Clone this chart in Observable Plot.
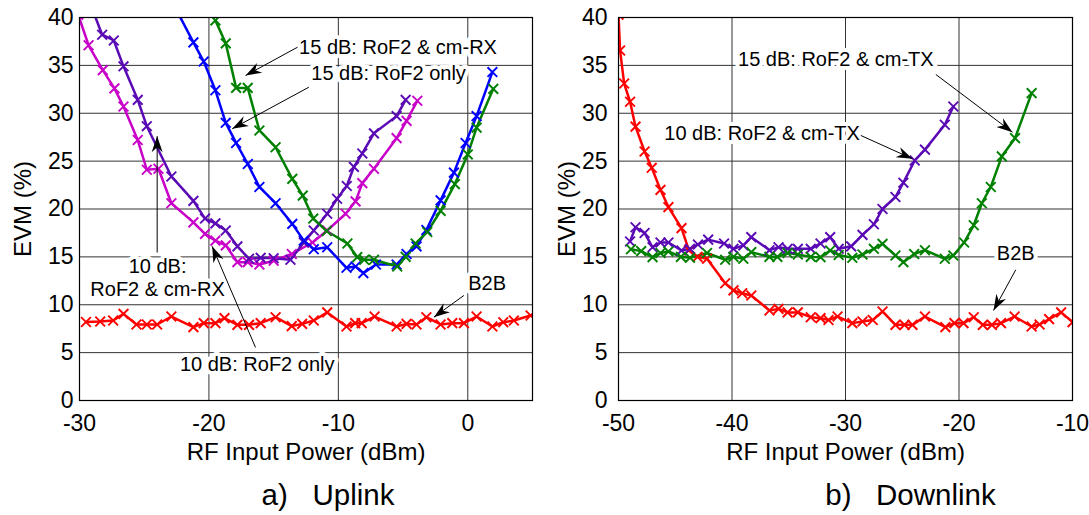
<!DOCTYPE html>
<html><head><meta charset="utf-8">
<script src="https://cdn.jsdelivr.net/npm/d3@7"></script>
<script src="https://cdn.jsdelivr.net/npm/@observablehq/plot@0.6"></script>
<style>
body{margin:0;background:#fff;}
#wrap{display:flex;width:1089px;height:515px;overflow:hidden;}
</style></head><body><div id="wrap"></div>
<script>
// ---------- DATA ----------
const seriesNames = ["B2B", "10 dB only", "10 dB cm", "15 dB only", "15 dB cm"];
const seriesColors = ["#ff0000", "#c800c8", "#5a0ab4", "#0000ff", "#008000"];
const yTicks = [0, 5, 10, 15, 20, 25, 30, 35, 40];
const upTicks = [-30, -20, -10, 0];
const downTicks = [-50, -40, -30, -20, -10];
const xLabel = "RF Input Power (dBm)";
const yLabel = "EVM (%)";

// Uplink [RF input power dBm, EVM %]
const upB2B = [[-29.5,8.2],[-28.4,8.25],[-27.4,8.35],[-26.6,9.05],[-25.6,7.94],[-24.8,7.94],[-24.0,7.94],[-22.9,8.77],[-21.2,7.66],[-20.4,8.08],[-19.5,8.08],[-18.8,8.6],[-17.8,7.9],[-16.9,7.9],[-16.0,8.08],[-14.85,8.7],[-13.6,7.77],[-12.8,8.0],[-11.9,8.35],[-10.86,9.2],[-9.37,7.73],[-8.7,8.08],[-8.2,8.08],[-7.2,8.77],[-5.5,7.73],[-4.73,8.0],[-3.96,7.94],[-3.2,8.7],[-2.1,7.94],[-1.2,8.08],[-0.3,8.08],[0.68,8.77],[1.9,7.73],[2.74,8.18],[3.56,8.35],[4.85,8.88]];
const up10Only = [[-30.1,40.3],[-29.3,37.1],[-28.2,34.5],[-27.3,32.6],[-26.6,30.7],[-25.5,27.2],[-24.8,24.1],[-23.9,24.2],[-22.9,20.6],[-21.2,18.6],[-20.3,17.4],[-19.5,16.7],[-18.7,16.2],[-17.8,14.45],[-17.0,14.45],[-16.1,14.2],[-15.0,14.6],[-13.6,15.3],[-12.0,16.5],[-10.86,17.75],[-9.44,19.5],[-8.67,20.8],[-8.15,22.7],[-7.25,24.2],[-5.5,27.4],[-4.73,29.2],[-3.9,31.3]];
const up10Cm = [[-29.1,41.2],[-28.25,38.2],[-27.35,37.6],[-26.6,34.9],[-25.5,31.4],[-24.8,28.65],[-22.9,23.4],[-21.2,20.85],[-20.3,19.0],[-19.5,18.5],[-18.7,17.75],[-17.8,16.1],[-16.9,14.8],[-16.0,14.9],[-15.0,14.86],[-13.7,14.7],[-12.67,16.5],[-11.9,17.75],[-10.86,19.5],[-10.1,21.07],[-9.35,22.4],[-8.8,24.4],[-8.15,25.8],[-7.25,27.9],[-5.5,29.7],[-4.8,31.4]];
const up15Only = [[-22.4,40.5],[-21.2,37.4],[-20.4,35.4],[-19.5,32.4],[-18.7,29.0],[-17.9,26.9],[-17.0,24.7],[-16.1,22.3],[-14.85,20.6],[-13.56,18.45],[-12.67,16.7],[-11.9,15.8],[-10.86,16.0],[-9.37,13.86],[-8.67,14.0],[-8.07,13.3],[-7.1,14.2],[-5.5,14.2],[-4.73,15.3],[-3.96,16.1],[-3.2,17.8],[-2.1,20.9],[-1.07,23.8],[-0.17,26.9],[0.68,29.7],[1.9,34.3]];
const up15Cm = [[-19.5,39.7],[-18.7,37.3],[-17.9,32.65],[-17.0,32.65],[-16.1,28.2],[-14.85,26.45],[-13.56,23.15],[-12.75,21.4],[-11.94,19.0],[-10.9,17.7],[-9.3,16.4],[-8.54,14.97],[-8.0,14.7],[-7.25,14.7],[-5.45,14.0],[-4.8,15.0],[-4.03,16.4],[-3.13,17.6],[-2.1,19.8],[-1.0,22.6],[0.0,25.7],[0.68,28.5],[1.97,32.55]];

// Downlink
const downB2B = [[-50,40.3],[-49.86,36.55],[-49.5,33.1],[-48.98,31.2],[-48.5,28.6],[-47.7,26.0],[-47.07,24.3],[-46.3,22.0],[-45.6,20.2],[-44.45,18.0],[-43.8,15.7],[-43.04,15.0],[-42.2,14.8],[-40.6,12.25],[-39.87,11.5],[-39.1,11.2],[-38.3,10.97],[-36.7,9.4],[-35.9,9.57],[-35.1,9.2],[-34.2,9.2],[-33.06,8.7],[-32.2,8.6],[-31.5,8.4],[-30.7,8.77],[-29.4,8.08],[-28.5,8.25],[-27.6,8.4],[-26.74,9.3],[-25.6,7.9],[-24.8,7.9],[-24.1,7.9],[-23.0,8.77],[-21.2,7.66],[-20.4,8.08],[-19.6,8.08],[-18.7,8.7],[-17.9,7.9],[-17.1,7.9],[-16.3,8.08],[-15.1,8.77],[-13.6,7.73],[-12.9,7.94],[-12.06,8.5],[-11.0,9.2],[-10.0,8.18]];
const down10Cm = [[-48.98,16.6],[-48.5,18.1],[-47.7,17.5],[-47.0,16.0],[-46.3,16.5],[-45.6,16.5],[-44.45,15.67],[-43.7,15.84],[-43.0,16.3],[-42.1,16.8],[-40.7,16.4],[-39.87,15.84],[-39.0,16.2],[-38.3,17.06],[-36.7,15.7],[-35.9,16.0],[-35.1,15.84],[-34.2,15.84],[-33.06,15.84],[-32.2,16.4],[-31.35,17.06],[-30.6,15.84],[-29.5,16.1],[-28.5,17.3],[-27.5,18.4],[-26.74,20.0],[-25.6,21.25],[-24.9,22.75],[-23.9,25.07],[-23.0,26.2],[-21.25,28.8],[-20.5,30.7]];
const down15Cm = [[-48.9,15.8],[-48.0,15.6],[-47.0,14.97],[-46.3,15.4],[-45.6,15.56],[-44.5,15.0],[-43.7,14.9],[-42.2,15.4],[-40.6,14.7],[-39.87,15.0],[-39.0,14.8],[-38.3,15.5],[-36.7,15.0],[-36.0,15.0],[-35.1,15.4],[-34.2,15.25],[-33.06,15.0],[-32.2,14.97],[-31.35,15.67],[-30.6,15.2],[-29.4,14.9],[-28.5,15.25],[-27.5,15.84],[-26.74,16.36],[-25.6,15.14],[-24.9,14.45],[-23.95,15.3],[-23.0,15.7],[-21.25,14.8],[-20.5,15.14],[-19.55,16.5],[-18.7,18.3],[-17.99,20.6],[-17.2,22.3],[-16.23,25.5],[-15.06,27.4],[-13.6,32.1]];

// Annotations (data coordinates)
const upNotes = [
  {x: -5.39, y: 36.97, text: "15 dB: RoF2 & cm-RX"},
  {x: -6.12, y: 34.26, text: "15 dB: RoF2 only"},
  {x: -23.97, y: 12.88, text: "10 dB:\nRoF2 & cm-RX"},
  {x: -16.27, y: 3.9, text: "10 dB: RoF2 only"},
  {x: 1.49, y: 12.36, text: "B2B"}
];
const upArrows = [
  {x1: -13.15, y1: 36.9, x2: -17.17, y2: 33.94},
  {x1: -12.28, y1: 32.72, x2: -18.2, y2: 28.38},
  {x1: -24.0, y1: 15.46, x2: -24.0, y2: 27.6},
  {x1: -16.4, y1: 5.54, x2: -19.75, y2: 16.1},
  {x1: -0.3, y1: 10.97, x2: -2.62, y2: 8.7}
];
const downNotes = [
  {x: -30.85, y: 35.69, text: "15 dB: RoF2 & cm-TX"},
  {x: -37.35, y: 28.02, text: "10 dB: RoF2 & cm-TX"},
  {x: -15.0, y: 15.49, text: "B2B"}
];
const downArrows = [
  {x1: -22.04, y1: 34.05, x2: -15.29, y2: 28.02},
  {x1: -28.65, y1: 27.68, x2: -24.1, y2: 25.24},
  {x1: -15.0, y1: 13.65, x2: -16.96, y2: 9.4}
];

// ---------- DRAW ----------
const FONT = "'Liberation Sans', Arial, Helvetica, sans-serif";
const GRID = "#333";

function stealth() {
  const m = d3.create("svg:marker")
    .attr("viewBox", "-17 -7 18 14")
    .attr("markerWidth", 18).attr("markerHeight", 14)
    .attr("markerUnits", "userSpaceOnUse")
    .attr("refX", 0).attr("refY", 0)
    .attr("orient", "auto");
  m.append("path").attr("d", "M0,0L-16,-5.5L-11,0L-16,5.5Z").attr("fill", "#000").attr("stroke", "none");
  return m.node();
}

function panel(o) {
  const data = o.series.flatMap(([name, pts]) => pts.map(([x, y]) => ({name, x, y})));
  return Plot.plot({
    width: o.width, height: 515,
    marginLeft: o.ml, marginRight: o.mr, marginTop: 17, marginBottom: 115,
    style: {fontFamily: FONT, fontSize: "20px", color: "#000", background: "#fff"},
    x: {domain: o.xDomain},
    y: {domain: [0, 40]},
    color: {domain: seriesNames, range: seriesColors},
    marks: [
      Plot.gridX(o.xTicks, {stroke: GRID, strokeOpacity: 1}),
      Plot.gridY(yTicks, {stroke: GRID, strokeOpacity: 1}),
      Plot.axisX(o.xTicks, {tickFormat: d => String(d), tickSize: 0, tickPadding: 14, fontSize: 23, label: null}),
      Plot.axisY(yTicks, {tickFormat: d => String(d), tickSize: 0, tickPadding: o.yPad, fontSize: 23, label: null}),
      Plot.text([xLabel], {text: d => d, frameAnchor: "bottom", lineAnchor: "middle", dy: 52, fontSize: 24, fill: "#000"}),
      Plot.text([yLabel], {text: d => d, frameAnchor: "left", lineAnchor: "middle", textAnchor: "middle", rotate: -90, dx: o.yLabDx, fontSize: 24, fill: "#000"}),
      Plot.line(data, {x: "x", y: "y", z: "name", stroke: "name", strokeWidth: 2.5, clip: true}),
      Plot.dot(data, {x: "x", y: "y", stroke: "name", symbol: "times", r: 4.5, strokeWidth: 1.9, clip: true}),
      Plot.text(o.notes, {x: "x", y: "y", text: "text", fontSize: 20, lineHeight: 1.15, fill: "#000", stroke: "#fff", strokeWidth: 8}),
      Plot.link(o.arrows, {x1: "x1", y1: "y1", x2: "x2", y2: "y2", stroke: "#000", strokeWidth: 1, markerEnd: stealth}),
      Plot.frame({stroke: "#000", strokeWidth: 1.2}),
      Plot.text([o.caption], {text: d => d, frameAnchor: "bottom", lineAnchor: "middle", dx: o.capDx, dy: 95, fontSize: 29.5, fill: "#000"})
    ]
  });
}

const wrap = document.getElementById("wrap");
wrap.append(panel({
  width: 545, ml: 79, mr: 13, xDomain: [-30, 5], xTicks: upTicks, yPad: 6, yLabDx: -56.5,
  series: [["B2B", upB2B], ["10 dB only", up10Only], ["10 dB cm", up10Cm], ["15 dB only", up15Only], ["15 dB cm", up15Cm]],
  notes: upNotes, arrows: upArrows, caption: "a)\u00a0\u00a0\u00a0Uplink", capDx: 22
}));
wrap.append(panel({
  width: 544, ml: 73, mr: 17, xDomain: [-50, -10], xTicks: downTicks, yPad: 11, yLabDx: -51.5,
  series: [["B2B", downB2B], ["10 dB cm", down10Cm], ["15 dB cm", down15Cm]],
  notes: downNotes, arrows: downArrows, caption: "b)\u00a0\u00a0\u00a0Downlink", capDx: 65
}));
</script></body></html>
